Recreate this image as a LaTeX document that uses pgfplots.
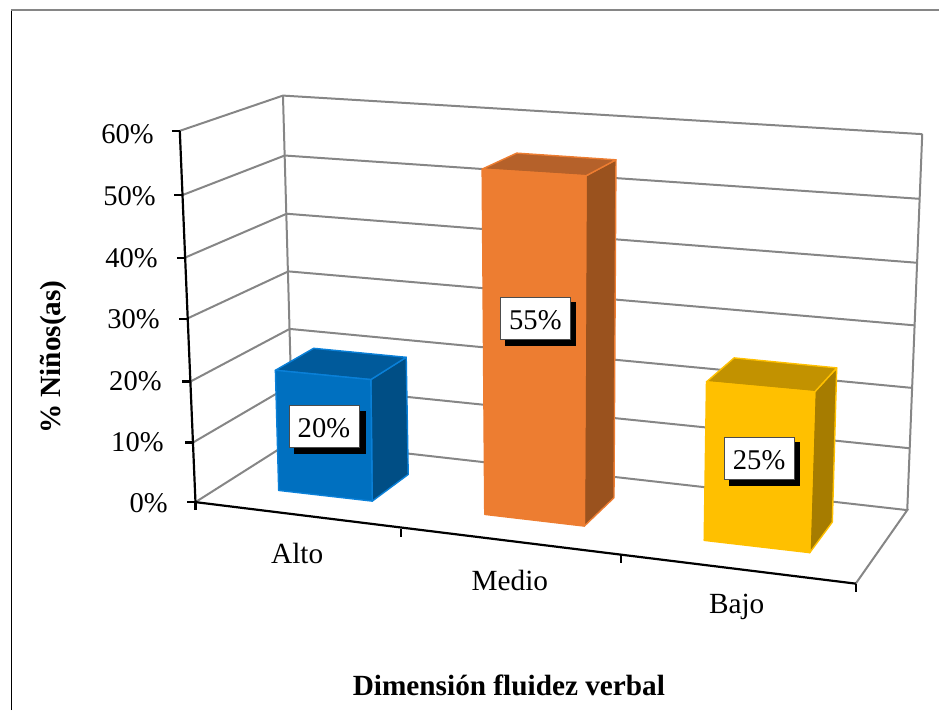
\documentclass[border=0pt]{standalone}
\usepackage{pgfplots}
\pgfplotsset{compat=1.18}
\usepackage{fontspec}
\setmainfont{Liberation Serif}
\definecolor{grid}{HTML}{868686}
\definecolor{blueF}{HTML}{0070C0}
\definecolor{blueT}{HTML}{005A9B}
\definecolor{blueS}{HTML}{004E85}
\definecolor{blueE}{HTML}{0A80D8}
\definecolor{orF}{HTML}{ED7D31}
\definecolor{orT}{HTML}{B5612A}
\definecolor{orS}{HTML}{9A521E}
\definecolor{yeF}{HTML}{FFC000}
\definecolor{yeT}{HTML}{C29200}
\definecolor{yeS}{HTML}{A67C00}
\newcommand{\lab}{\fontsize{28.6bp}{30bp}\selectfont}
\newcommand{\cat}{\fontsize{29.3bp}{31bp}\selectfont}
\newcommand{\tit}{\fontsize{29.3bp}{31bp}\selectfont\bfseries}
\begin{document}
\begin{tikzpicture}[x=1bp,y=1bp]
\begin{axis}[
  scale only axis, width=940bp, height=711bp,
  xmin=0, xmax=940, ymin=0, ymax=711, y dir=reverse,
  hide axis, clip=false,
  gl/.style={draw=grid, line width=2bp, mark=none},
  bk/.style={draw=black, line width=2.2bp, mark=none},
  face/.style 2 args={fill=#1, draw=#2, line width=1.4bp, mark=none, line join=round},
]
\path (axis cs:0,0) rectangle (axis cs:940,711);
% frame
\addplot[draw=black, line width=1.8bp, mark=none] coordinates {(11.5,711) (11.5,10)};
\addplot[draw=grid, line width=2.2bp, mark=none] coordinates {(11.5,10) (940,10)};
% side wall + back wall grid, values 60 ... 0 %
\addplot[gl] coordinates {(180,131) (283.3,95.7) (923.3,134.3)};
\addplot[gl] coordinates {(182.7,195.3) (285,155.7) (920,199)};
\addplot[gl] coordinates {(185,258) (287,214) (917.3,263)};
\addplot[gl] coordinates {(187.3,319) (288.7,271.7) (915.3,325.7)};
\addplot[gl] coordinates {(190.7,382) (290,329.3) (912.7,388.3)};
\addplot[gl] coordinates {(193.3,443) (291.5,385.5) (910,448.7)};
\addplot[gl] coordinates {(195.7,502.7) (293,441) (908.3,510.7) (856.7,584.3)};
\addplot[gl] coordinates {(283.3,95.7) (293,441)};
\addplot[gl] coordinates {(923.3,134.3) (908.3,510.7)};
% axes
\addplot[bk] coordinates {(180,131) (195.7,502.7)};
\addplot[bk] coordinates {(195.7,502.7) (856.7,584.3)};
\addplot[bk] coordinates {(172,131) (180,131)};
\addplot[bk] coordinates {(174.7,195.3) (182.7,195.3)};
\addplot[bk] coordinates {(177,258) (185,258)};
\addplot[bk] coordinates {(179.3,319) (187.3,319)};
\addplot[bk] coordinates {(182.7,382) (190.7,382)};
\addplot[bk] coordinates {(185.3,443) (193.3,443)};
\addplot[bk] coordinates {(187.7,502.7) (195.7,502.7)};
\addplot[bk] coordinates {(195.7,502.7) (195.7,511)};
\addplot[bk] coordinates {(401.7,529.3) (401.7,537.5)};
\addplot[bk] coordinates {(621.7,555.7) (621.7,564)};
\addplot[bk] coordinates {(856.7,584.3) (856.7,593)};
% bar Alto, 20 %
\addplot[face={blueS}{blueE}] coordinates {(371.3,380) (406.7,357.7) (408.7,475) (372.7,501.7)} -- cycle;
\addplot[face={blueT}{blueE}] coordinates {(275.7,370.7) (314,348.7) (406.7,357.7) (371.3,380)} -- cycle;
\addplot[face={blueF}{blueE}] coordinates {(275.7,370.7) (371.3,380) (372.7,501.7) (279,491)} -- cycle;
% bar Medio, 55 %
\addplot[face={orS}{orF}] coordinates {(586.7,176) (616.7,160) (614.7,498.3) (585,526.7)} -- cycle;
\addplot[face={orT}{orF}] coordinates {(482.7,169.3) (517.3,153.3) (616.7,160) (586.7,176)} -- cycle;
\addplot[face={orF}{orF}] coordinates {(482.7,169.3) (586.7,176) (585,526.7) (485.3,515)} -- cycle;
% bar Bajo, 25 %
\addplot[face={yeS}{yeF}] coordinates {(815.7,392.3) (837.7,368.3) (833.3,522.7) (810.7,553.3)} -- cycle;
\addplot[face={yeT}{yeF}] coordinates {(707.3,382.3) (735,358.3) (837.7,368.3) (815.7,392.3)} -- cycle;
\addplot[face={yeF}{yeF}] coordinates {(707.3,382.3) (815.7,392.3) (810.7,553.3) (705,541)} -- cycle;
% data label boxes
\addplot[fill=black, draw=black, mark=none] coordinates {(295,412) (365.5,412) (365.5,453.5) (295,453.5)} -- cycle;
\addplot[fill=white, draw=black!70, line width=0.8bp, mark=none] coordinates {(289.7,406) (360,406) (360,447.7) (289.7,447.7)} -- cycle;
\addplot[fill=black, draw=black, mark=none] coordinates {(506,303) (576,303) (576,345.5) (506,345.5)} -- cycle;
\addplot[fill=white, draw=black!70, line width=0.8bp, mark=none] coordinates {(501,297.7) (571,297.7) (571,340) (501,340)} -- cycle;
\addplot[fill=black, draw=black, mark=none] coordinates {(730,443) (800.5,443) (800.5,485.5) (730,485.5)} -- cycle;
\addplot[fill=white, draw=black!70, line width=0.8bp, mark=none] coordinates {(725.3,437.7) (795,437.7) (795,480) (725.3,480)} -- cycle;
% texts
\node[font=\lab] at (axis cs:324.3,429) {20\%};
\node[font=\lab] at (axis cs:536,320.5) {55\%};
\node[font=\lab] at (axis cs:760,460.5) {25\%};
\node[font=\lab,anchor=east,inner sep=0pt] at (axis cs:154,134.5) {60\%};
\node[font=\lab,anchor=east,inner sep=0pt] at (axis cs:156,196.5) {50\%};
\node[font=\lab,anchor=east,inner sep=0pt] at (axis cs:158,258.5) {40\%};
\node[font=\lab,anchor=east,inner sep=0pt] at (axis cs:160,320) {30\%};
\node[font=\lab,anchor=east,inner sep=0pt] at (axis cs:162,382) {20\%};
\node[font=\lab,anchor=east,inner sep=0pt] at (axis cs:164,443) {10\%};
\node[font=\lab,anchor=east,inner sep=0pt] at (axis cs:168,504) {0\%};
\node[font=\cat] at (axis cs:297.5,554) {Alto};
\node[font=\cat] at (axis cs:510.5,581) {Medio};
\node[font=\cat] at (axis cs:737.5,608) {Bajo};
\node[font=\tit] at (axis cs:509.5,686) {Dimensión fluidez verbal};
\node[font=\tit,rotate=90] at (axis cs:53.5,357.5) {\% Niños(as)};
\end{axis}
\end{tikzpicture}
\end{document}
